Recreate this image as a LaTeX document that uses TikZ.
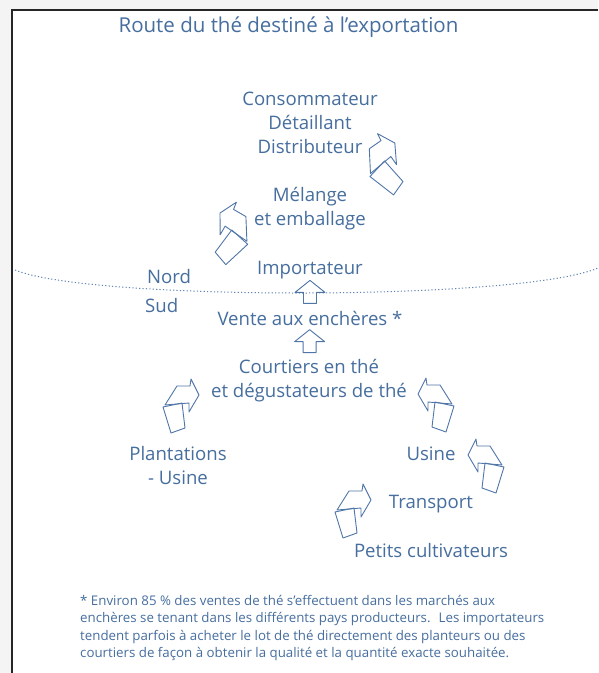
\documentclass[tikz,border=0pt]{standalone}
\usepackage{fontspec}
\setmainfont{Open Sans}
\usetikzlibrary{calc}

\definecolor{teablue}{RGB}{70,110,158}
\definecolor{ribbonblue}{RGB}{80,118,168}
\definecolor{pagegray}{RGB}{244,244,244}

% outline ribbon arrow (folded tail + bent head)
\tikzset{
  ribbon/.pic={
    \draw[ribbonline] (-15,0) -- (-3,-19) -- (10,-19) -- (11,-26) -- (19,-10) -- (9,7) -- (9,-2) -- cycle;
    \draw[ribbonline] (-17,2) -- (-9,28) -- (5,23) -- (2,-2) -- cycle;
  },
  uparrow/.pic={
    \draw[ribbonline] (-6.5,11.5) -- (-6.5,0.5) -- (-15,0.5) -- (0,-11.5) -- (15,0.5) -- (6.5,0.5) -- (6.5,11.5) -- cycle;
  }
}

\begin{document}
\begin{tikzpicture}[
  x=1pt, y=-1pt,
  ribbonline/.style={draw=ribbonblue, line width=0.9pt, line join=round},
  label/.style={text=teablue, font=\fontsize{18.6}{24}\selectfont, align=center, inner sep=0pt},
  note/.style={text=teablue, font=\fontsize{13.3}{17.4}\selectfont, align=left, inner sep=0pt}
]
\useasboundingbox (0,0) rectangle (598,673);
\fill[pagegray] (0,0) rectangle (598,673);
\fill[white] (12,10) rectangle (598,673);
\draw[line width=1.6pt, black!85] (12,673) -- (12,10) -- (598,10);

\node[label, font=\fontsize{20.5}{24}\selectfont] (title) at (288.5,27) {Route du thé destiné à l'exportation};

\node[label] (retail) at (310,122.5) {Consommateur\\Détaillant\\Distributeur};
\node[label] (blend) at (310,209) {Mélange\\et emballage};
\node[label] (import) at (310,270.5) {Importateur};
\node[label] (auction) at (310,318) {Vente aux enchères *};
\node[label] (brokers) at (309,380.5) {Courtiers en thé\\et dégustateurs de thé};
\node[label] (estates) at (178,465.5) {Plantations\\- Usine};
\node[label] (factory) at (431,453.5) {Usine};
\node[label] (transport) at (431,504) {Transport};
\node[label] (growers) at (431,551) {Petits cultivateurs};

\node[label, anchor=west] (north) at (147,277) {Nord};
\node[label, anchor=west] (south) at (145,306) {Sud};

% north / south line
\draw[ribbonblue!90, line width=1pt, dash pattern=on 1.2pt off 2.2pt] (15,270) .. controls (90,301) and (520,301) .. (598,268);

\pic at ($(import)!0.45!(auction)$) {uparrow};
\pic at ($(auction)!0.37!(brokers)$) {uparrow};

\pic at (180,405) {ribbon};
\pic[xscale=-1] at (437,404) {ribbon};
\pic[xscale=-1] at (487,465) {ribbon};
\pic at (352,510) {ribbon};
\pic[rotate=-30, xscale=-1, scale=1.1] at (232.6,233) {ribbon};
\pic[rotate=35, scale=1.1] at (384,164) {ribbon};

\node[note, anchor=north west] (footnote) at (80,595) {* Environ 85 \% des ventes de thé s'effectuent dans les marchés aux\\
enchères se tenant dans les différents pays producteurs.~ Les importateurs\\
tendent parfois à acheter le lot de thé directement des planteurs ou des\\
courtiers de façon à obtenir la qualité et la quantité exacte souhaitée.};
\end{tikzpicture}
\end{document}
